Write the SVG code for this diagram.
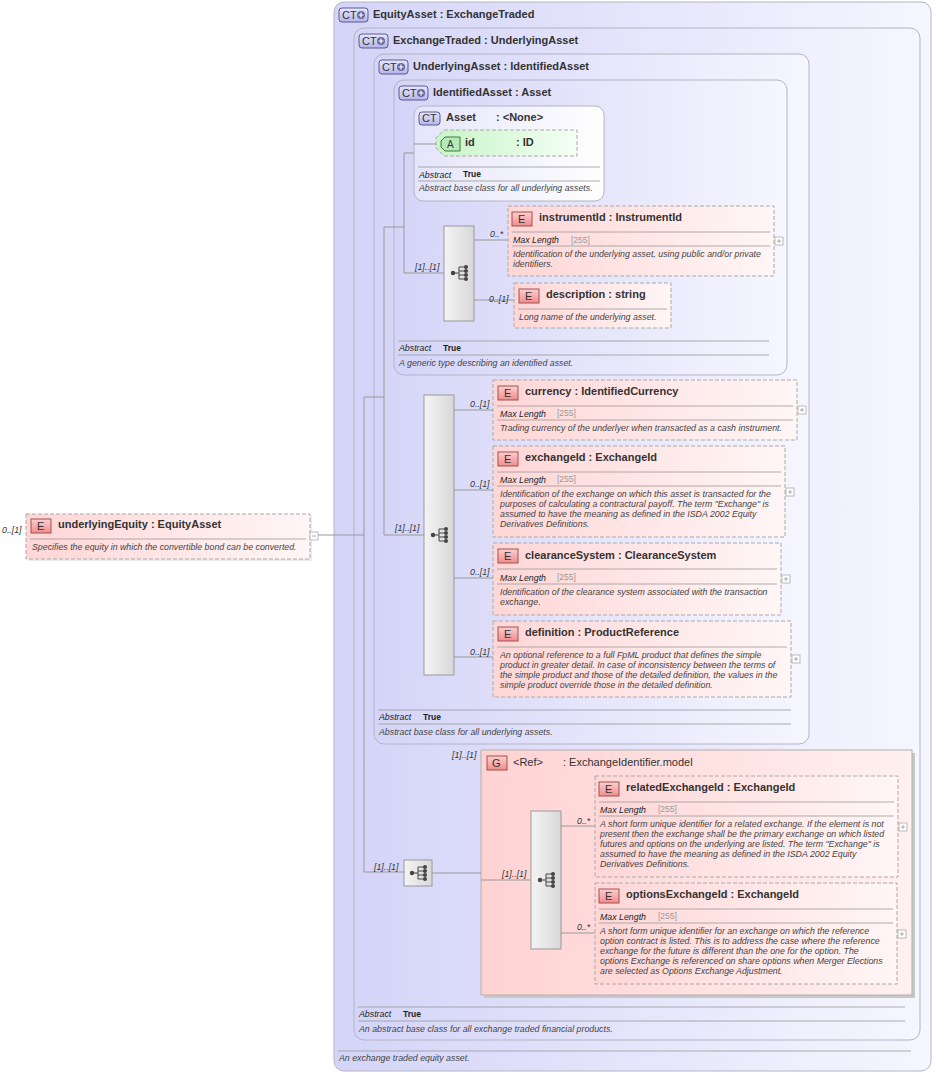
<svg xmlns="http://www.w3.org/2000/svg" width="935" height="1074" viewBox="0 0 935 1074">
<defs>
<linearGradient id="gCt" x1="0" y1="0" x2="1" y2="0"><stop offset="0" stop-color="#d4d4f8"/><stop offset="1" stop-color="#f6f6ff"/></linearGradient>
<linearGradient id="gAsset" x1="0" y1="0" x2="1" y2="0"><stop offset="0" stop-color="#e4e4fb"/><stop offset="1" stop-color="#ffffff"/></linearGradient>
<linearGradient id="gEl" x1="0" y1="0" x2="1" y2="0"><stop offset="0" stop-color="#ffd6d6"/><stop offset="1" stop-color="#fff6f6"/></linearGradient>
<linearGradient id="gGrp" x1="0" y1="0" x2="1" y2="0"><stop offset="0" stop-color="#ffd2d2"/><stop offset="1" stop-color="#fff0f0"/></linearGradient>
<linearGradient id="gAt" x1="0" y1="0" x2="1" y2="0"><stop offset="0" stop-color="#c8f4c8"/><stop offset="1" stop-color="#f4fff4"/></linearGradient>
<linearGradient id="gSeq" x1="0" y1="0" x2="1" y2="0"><stop offset="0" stop-color="#f4f4f4"/><stop offset="1" stop-color="#d8d8d8"/></linearGradient>
<linearGradient id="gBadgeE" x1="0" y1="0" x2="0" y2="1"><stop offset="0" stop-color="#fbd0d0"/><stop offset="1" stop-color="#f08c8c"/></linearGradient>
<linearGradient id="gBadgeCt" x1="0" y1="0" x2="0" y2="1"><stop offset="0" stop-color="#e8e8ff"/><stop offset="1" stop-color="#b4b4ee"/></linearGradient>
<g id="seqIcon">
<circle cx="-8" cy="0" r="2.2" fill="#444"/>
<path d="M-8,0 H-2 M-2,-6 V6 M-2,-6 H4 M-2,-2 H4 M-2,2 H4 M-2,6 H4" stroke="#444" stroke-width="1" fill="none"/>
<circle cx="5" cy="-6" r="2" fill="#444"/><circle cx="5" cy="-2" r="2" fill="#444"/><circle cx="5" cy="2" r="2" fill="#444"/><circle cx="5" cy="6" r="2" fill="#444"/>
</g>
<g id="plus"><rect x="0" y="0" width="8" height="8" fill="#fff" stroke="#aaa" stroke-width="0.8"/><path d="M2,4 H6 M4,2 V6" stroke="#999" stroke-width="0.8"/></g>
<g id="ctBadge"><rect x="0" y="0" width="29" height="14" rx="3" fill="url(#gBadgeCt)" stroke="#5a5a8a"/><text x="3" y="11" font-family="Liberation Sans, sans-serif" font-size="11" fill="#333">CT</text><circle cx="22" cy="7" r="4" fill="#6a6a9a"/><path d="M19.5,7 H24.5 M22,4.5 V9.5" stroke="#fff" stroke-width="1.2"/></g>
<g id="eBadge"><rect x="0" y="0" width="20" height="14" fill="url(#gBadgeE)" stroke="#a05050"/><text x="6" y="11" font-family="Liberation Sans, sans-serif" font-size="11" fill="#333">E</text></g>
</defs>
<style>
.ct{fill:url(#gCt);stroke:#b4b4c4;stroke-width:1}
.el{fill:url(#gEl);stroke:#aaaaaa;stroke-width:1;stroke-dasharray:4,2}
.seq{fill:url(#gSeq);stroke:#999;stroke-width:1}
.ttl{font-family:"Liberation Sans",Arial,sans-serif;font-size:11px;font-weight:bold;fill:#333}
.grp{font-family:"Liberation Sans",Arial,sans-serif;font-size:11px;fill:#333}
.ds{font-family:"Liberation Sans",Arial,sans-serif;font-size:8.8px;font-style:italic;fill:#444}
.ab{font-family:"Liberation Sans",Arial,sans-serif;font-size:8.8px;font-style:italic;fill:#222}
.tr{font-family:"Liberation Sans",Arial,sans-serif;font-size:8.5px;font-weight:bold;fill:#222}
.len{font-family:"Liberation Sans",Arial,sans-serif;font-size:8.5px;fill:#999}
.mul{font-family:"Liberation Sans",Arial,sans-serif;font-size:8.8px;font-style:italic;fill:#333}
.sep{stroke:#999;stroke-width:0.8}
.cn{stroke:#999;stroke-width:1;fill:none}
</style>

<g id="EquityAsset">
<rect class="ct" x="334" y="2" width="597" height="1069" rx="10"/>
<use href="#ctBadge" x="339" y="8"/>
<text class="ttl" x="373" y="18">EquityAsset  :  ExchangeTraded</text>
<line class="sep" x1="338" y1="1051" x2="911" y2="1051"/>
<text class="ds" x="339" y="1061">An exchange traded equity asset.</text>
</g>
<g id="ExchangeTraded">
<rect class="ct" x="354" y="28" width="566" height="1012" rx="10"/>
<use href="#ctBadge" x="359" y="34"/>
<text class="ttl" x="393" y="44">ExchangeTraded  :  UnderlyingAsset</text>
<line class="sep" x1="358" y1="1007" x2="905" y2="1007"/>
<text class="ab" x="359" y="1017">Abstract</text><text class="tr" x="403" y="1017">True</text>
<line class="sep" x1="358" y1="1021" x2="905" y2="1021"/>
<text class="ds" x="359" y="1032">An abstract base class for all exchange traded financial products.</text>
</g>
<g id="UnderlyingAsset">
<rect class="ct" x="374" y="54" width="435" height="690" rx="10"/>
<use href="#ctBadge" x="379" y="60"/>
<text class="ttl" x="413" y="70">UnderlyingAsset  :  IdentifiedAsset</text>
<line class="sep" x1="378" y1="710" x2="791" y2="710"/>
<text class="ab" x="379" y="720">Abstract</text><text class="tr" x="423" y="720">True</text>
<line class="sep" x1="378" y1="724" x2="791" y2="724"/>
<text class="ds" x="379" y="735">Abstract base class for all underlying assets.</text>
</g>
<g id="IdentifiedAsset">
<rect class="ct" x="394" y="80" width="393" height="295" rx="10"/>
<use href="#ctBadge" x="399" y="86"/>
<text class="ttl" x="433" y="96">IdentifiedAsset  :  Asset</text>
<line class="sep" x1="398" y1="341" x2="769" y2="341"/>
<text class="ab" x="399" y="351">Abstract</text><text class="tr" x="443" y="351">True</text>
<line class="sep" x1="398" y1="355" x2="769" y2="355"/>
<text class="ds" x="399" y="366">A generic type describing an identified asset.</text>
</g>
<g id="Asset">
<rect x="414" y="106" width="190" height="95" rx="9" fill="url(#gAsset)" stroke="#b4b4c4"/>
<rect x="419" y="112" width="21" height="13" rx="3" fill="url(#gBadgeCt)" stroke="#5a5a8a"/>
<text x="422" y="122" font-family="Liberation Sans, sans-serif" font-size="11" fill="#333">CT</text>
<text class="ttl" x="446" y="121">Asset</text><text class="ttl" x="496" y="121">: &lt;None&gt;</text>
<line class="sep" x1="418" y1="167" x2="600" y2="167"/>
<text class="ab" x="419" y="178">Abstract</text><text class="tr" x="463" y="177">True</text>
<line class="sep" x1="418" y1="181" x2="600" y2="181"/>
<text class="ds" x="419" y="191">Abstract base class for all underlying assets.</text>
</g>
<g id="id">
<path d="M444,130 H577 V156 H444 L436,148 V138 Z" fill="url(#gAt)" stroke="#aaa" stroke-dasharray="4,2"/>
<path d="M445,137 H460 V151 H445 L441,147 V141 Z" fill="#b8eab8" stroke="#3a7a3a"/>
<text x="447" y="148" font-family="Liberation Sans, sans-serif" font-size="10" fill="#333">A</text>
<text class="ttl" x="465" y="146">id</text><text class="ttl" x="516" y="146">: ID</text>
</g>

<g id="seq1"><rect class="seq" x="444" y="226" width="30" height="95"/><use href="#seqIcon" x="461" y="273"/></g>
<g id="seq2"><rect class="seq" x="424" y="395" width="30" height="280"/><use href="#seqIcon" x="441" y="535"/></g>
<g id="seq3"><rect class="seq" x="404" y="860" width="28" height="26"/><use href="#seqIcon" x="420" y="873"/></g>

<g id="instrumentId">
<rect class="el" x="508" y="206" width="266" height="70"/>
<use href="#eBadge" x="512" y="212"/>
<text class="ttl" x="539" y="221">instrumentId  :  InstrumentId</text>
<line class="sep" x1="512" y1="232" x2="770" y2="232"/>
<text class="ab" x="513" y="243">Max Length</text><text class="len" x="571" y="243">[255]</text>
<line class="sep" x1="512" y1="246" x2="770" y2="246"/>
<text class="ds" x="513" y="257">Identification of the underlying asset, using public and/or private</text>
<text class="ds" x="513" y="267">identifiers.</text>
<use href="#plus" x="775" y="237"/>
</g>
<g id="description">
<rect class="el" x="514" y="283" width="157" height="45"/>
<use href="#eBadge" x="519" y="289"/>
<text class="ttl" x="546" y="298">description  :  string</text>
<line class="sep" x1="518" y1="309" x2="667" y2="309"/>
<text class="ds" x="519" y="320">Long name of the underlying asset.</text>
</g>
<g id="currency">
<rect class="el" x="493" y="380" width="304" height="60"/>
<use href="#eBadge" x="498" y="386"/>
<text class="ttl" x="525" y="395">currency  :  IdentifiedCurrency</text>
<line class="sep" x1="497" y1="406" x2="793" y2="406"/>
<text class="ab" x="500" y="417">Max Length</text><text class="len" x="557" y="416">[255]</text>
<line class="sep" x1="497" y1="420" x2="793" y2="420"/>
<text class="ds" x="500" y="431">Trading currency of the underlyer when transacted as a cash instrument.</text>
<use href="#plus" x="798" y="406"/>
</g>
<g id="exchangeId">
<rect class="el" x="493" y="446" width="292" height="91"/>
<use href="#eBadge" x="498" y="452"/>
<text class="ttl" x="525" y="461">exchangeId  :  ExchangeId</text>
<line class="sep" x1="497" y1="472" x2="781" y2="472"/>
<text class="ab" x="500" y="483">Max Length</text><text class="len" x="557" y="482">[255]</text>
<line class="sep" x1="497" y1="486" x2="781" y2="486"/>
<text class="ds" x="500" y="497">Identification of the exchange on which this asset is transacted for the</text>
<text class="ds" x="500" y="507">purposes of calculating a contractural payoff. The term "Exchange" is</text>
<text class="ds" x="500" y="517">assumed to have the meaning as defined in the ISDA 2002 Equity</text>
<text class="ds" x="500" y="527">Derivatives Definitions.</text>
<use href="#plus" x="786" y="488"/>
</g>
<g id="clearanceSystem">
<rect class="el" x="493" y="543" width="288" height="72"/>
<use href="#eBadge" x="498" y="549"/>
<text class="ttl" x="525" y="559">clearanceSystem  :  ClearanceSystem</text>
<line class="sep" x1="497" y1="569" x2="777" y2="569"/>
<text class="ab" x="500" y="581">Max Length</text><text class="len" x="557" y="580">[255]</text>
<line class="sep" x1="497" y1="584" x2="777" y2="584"/>
<text class="ds" x="500" y="595">Identification of the clearance system associated with the transaction</text>
<text class="ds" x="500" y="605">exchange.</text>
<use href="#plus" x="782" y="575"/>
</g>
<g id="definition">
<rect class="el" x="493" y="621" width="298" height="76"/>
<use href="#eBadge" x="498" y="627"/>
<text class="ttl" x="525" y="636">definition  :  ProductReference</text>
<line class="sep" x1="497" y1="647" x2="787" y2="647"/>
<text class="ds" x="500" y="658">An optional reference to a full FpML product that defines the simple</text>
<text class="ds" x="500" y="668">product in greater detail. In case of inconsistency between the terms of</text>
<text class="ds" x="500" y="678">the simple product and those of the detailed definition, the values in the</text>
<text class="ds" x="500" y="688">simple product override those in the detailed definition.</text>
<use href="#plus" x="792" y="655"/>
</g>

<g id="ExchangeIdentifierModel">
<rect x="484" y="753" width="431" height="245" fill="#c8c8c8"/>
<rect x="481" y="750" width="431" height="245" fill="url(#gGrp)" stroke="#b0b0b0"/>
<rect x="487" y="756" width="20" height="14" fill="url(#gBadgeE)" stroke="#a05050"/>
<text x="492" y="767" font-family="Liberation Sans, sans-serif" font-size="11" fill="#333">G</text>
<text class="grp" x="513" y="766">&lt;Ref&gt;</text><text class="grp" x="563" y="766">: ExchangeIdentifier.model</text>
</g>
<g id="seq4"><rect class="seq" x="531" y="811" width="30" height="138"/><use href="#seqIcon" x="548" y="880"/></g>
<g id="relatedExchangeId">
<rect class="el" x="595" y="776" width="303" height="101"/>
<use href="#eBadge" x="599" y="782"/>
<text class="ttl" x="626" y="791">relatedExchangeId  :  ExchangeId</text>
<line class="sep" x1="599" y1="802" x2="894" y2="802"/>
<text class="ab" x="600" y="813">Max Length</text><text class="len" x="658" y="812">[255]</text>
<line class="sep" x1="599" y1="816" x2="894" y2="816"/>
<text class="ds" x="600" y="827">A short form unique identifier for a related exchange. If the element is not</text>
<text class="ds" x="600" y="837">present then the exchange shall be the primary exchange on which listed</text>
<text class="ds" x="600" y="847">futures and options on the underlying are listed. The term "Exchange" is</text>
<text class="ds" x="600" y="857">assumed to have the meaning as defined in the ISDA 2002 Equity</text>
<text class="ds" x="600" y="867">Derivatives Definitions.</text>
<use href="#plus" x="899" y="823"/>
</g>
<g id="optionsExchangeId">
<rect class="el" x="595" y="883" width="302" height="101"/>
<use href="#eBadge" x="599" y="889"/>
<text class="ttl" x="626" y="898">optionsExchangeId  :  ExchangeId</text>
<line class="sep" x1="599" y1="909" x2="893" y2="909"/>
<text class="ab" x="600" y="920">Max Length</text><text class="len" x="658" y="919">[255]</text>
<line class="sep" x1="599" y1="923" x2="893" y2="923"/>
<text class="ds" x="600" y="934">A short form unique identifier for an exchange on which the reference</text>
<text class="ds" x="600" y="944">option contract is listed. This is to address the case where the reference</text>
<text class="ds" x="600" y="954">exchange for the future is different than the one for the option. The</text>
<text class="ds" x="600" y="964">options Exchange is referenced on share options when Merger Elections</text>
<text class="ds" x="600" y="974">are selected as Options Exchange Adjustment.</text>
<use href="#plus" x="898" y="930"/>
</g>

<g id="underlyingEquity">
<rect x="28" y="516" width="284" height="45" fill="#e0e0e0" opacity="0.6"/>
<rect class="el" x="26" y="514" width="284" height="45"/>
<use href="#eBadge" x="31" y="519"/>
<text class="ttl" x="58" y="528">underlyingEquity  :  EquityAsset</text>
<line class="sep" x1="30" y1="539" x2="306" y2="539"/>
<text class="ds" x="32" y="550">Specifies the equity in which the convertible bond can be converted.</text>
<rect x="310" y="532" width="8" height="8" fill="#fff" stroke="#aaa" stroke-width="0.8"/>
<path d="M312,536 H316" stroke="#999" stroke-width="0.8"/>
<text class="mul" x="2" y="533">0..[1]</text>
</g>

<g id="connectors">
<path class="cn" d="M318,535 H364 M364,397 V872 M364,397 H384 M364,872 H404"/>
<path class="cn" d="M384,227 V535 H424 M384,227 H404 M404,153 V273 H444 M404,153 H414 M414,144 H436"/>
<path class="cn" d="M474,240 H508 M474,300 H514"/>
<path class="cn" d="M454,410 H493 M454,490 H493 M454,578 H493 M454,657 H493"/>
<path class="cn" d="M432,873 H481 M481,880 H531 M561,826 H595 M561,933 H595"/>
<text class="mul" x="415" y="270">[1]..[1]</text>
<text class="mul" x="490" y="237">0..*</text>
<text class="mul" x="489" y="302">0..[1]</text>
<text class="mul" x="395" y="531">[1]..[1]</text>
<text class="mul" x="470" y="407">0..[1]</text>
<text class="mul" x="470" y="487">0..[1]</text>
<text class="mul" x="470" y="575">0..[1]</text>
<text class="mul" x="470" y="655">0..[1]</text>
<text class="mul" x="452" y="758">[1]..[1]</text>
<text class="mul" x="374" y="870">[1]..[1]</text>
<text class="mul" x="502" y="877">[1]..[1]</text>
<text class="mul" x="577" y="824">0..*</text>
<text class="mul" x="577" y="930">0..*</text>
</g>
</svg>
